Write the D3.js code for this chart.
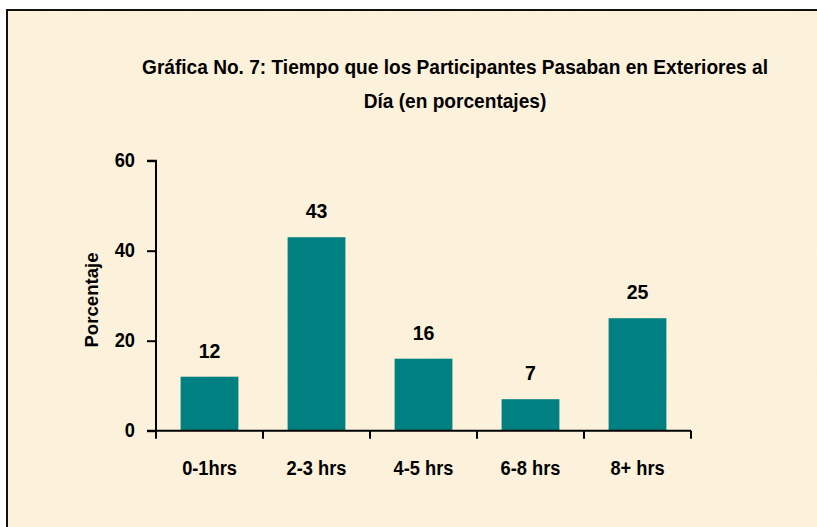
<!DOCTYPE html>
<html>
<head>
<meta charset="utf-8">
<script src="https://cdn.jsdelivr.net/npm/d3@7"></script>
<style>
  html, body { margin: 0; padding: 0; background: #ffffff; }
  svg { display: block; }
  text { font-family: "Liberation Sans", Arial, sans-serif; font-weight: bold; fill: #000; }
</style>
</head>
<body>
<svg id="chart" width="817" height="527"></svg>
<script>
const categories = ["0-1hrs", "2-3 hrs", "4-5 hrs", "6-8 hrs", "8+ hrs"];
const values = [12, 43, 16, 7, 25];
const yTicks = [0, 20, 40, 60];
const titleLines = ["Gráfica No. 7: Tiempo que los Participantes Pasaban en Exteriores al", "Día (en porcentajes)"];
const yLabel = "Porcentaje";

const svg = d3.select("#chart");
const W = 817, H = 527;

// background texture
const defs = svg.append("defs");
const f = defs.append("filter").attr("id", "paper").attr("x", 0).attr("y", 0).attr("width", "100%").attr("height", "100%");
f.append("feTurbulence").attr("type", "fractalNoise").attr("baseFrequency", "0.012 0.02").attr("numOctaves", 3).attr("seed", 4).attr("result", "n");
f.append("feColorMatrix").attr("in", "n").attr("type", "matrix")
  .attr("values", "0 0 0 0 0.98  0 0 0 0 0.91  0 0 0 0 0.76  0 0 0 -0.9 0.55");

svg.append("rect").attr("x", 0).attr("y", 0).attr("width", W).attr("height", H).attr("fill", "#ffffff");
svg.append("rect").attr("x", 7).attr("y", 10).attr("width", W).attr("height", H).attr("fill", "#fcf1da");
svg.append("rect").attr("x", 7).attr("y", 10).attr("width", W).attr("height", H).attr("filter", "url(#paper)").attr("opacity", 0.5);
svg.append("rect").attr("x", 7).attr("y", 10).attr("width", W + 10).attr("height", H + 10)
  .attr("fill", "none").attr("stroke", "#111").attr("stroke-width", 2);

const x0 = 156, x1 = 691, yTop = 160.7, yBot = 430.7;
const x = d3.scaleBand().domain(categories).range([x0, x1]).paddingInner(0.46).paddingOuter(0.23);
const y = d3.scaleLinear().domain([0, 60]).range([yBot, yTop]);

// helper: condensed text
function ctext(g, px, py, str, size, sx, anchor) {
  return g.append("text")
    .attr("transform", `translate(${px},${py}) scale(${sx},1)`)
    .attr("text-anchor", anchor || "middle")
    .style("font-size", size + "px")
    .text(str);
}

// title
ctext(svg, 455, 74, titleLines[0], 19.5, 0.98);
ctext(svg, 455, 108, titleLines[1], 19.5, 0.98);

// bars
svg.append("g").selectAll("rect").data(values).join("rect")
  .attr("x", (d, i) => x(categories[i]))
  .attr("y", d => y(d))
  .attr("width", x.bandwidth())
  .attr("height", d => y(0) - y(d))
  .attr("fill", "#008080");

// value labels
const gv = svg.append("g");
values.forEach((d, i) => ctext(gv, x(categories[i]) + x.bandwidth() / 2, y(d) - 19, d, 21, 0.93));

// y axis
const yAxis = d3.axisLeft(y).tickValues(yTicks).tickSize(9).tickPadding(12).tickFormat(d3.format("d"));
const gy = svg.append("g").attr("transform", `translate(${x0},0)`).call(yAxis);
gy.select(".domain").attr("stroke", "#000").attr("stroke-width", 2).attr("d", `M-9,${yTop}H0V${yBot}`);
gy.selectAll(".tick line").attr("stroke", "#000").attr("stroke-width", 2);
gy.selectAll(".tick text")
  .style("font-size", "21px").style("font-family", "'Liberation Sans', Arial, sans-serif").style("font-weight", "bold")
  .attr("fill", "#000").attr("x", -21 / 0.87).attr("dy", "0.26em").attr("transform", "scale(0.87,1)");

// x axis with tick marks between categories
const gx = svg.append("g").attr("transform", `translate(0,${yBot})`);
gx.append("line").attr("x1", x0 - 9).attr("x2", x1).attr("y1", 0).attr("y2", 0).attr("stroke", "#000").attr("stroke-width", 2);
const step = x.step();
const boundaries = [x0].concat(categories.map(c => x(c) + x.bandwidth() + (step - x.bandwidth()) / 2));
gx.selectAll("line.tk").data(boundaries).join("line").attr("class", "tk")
  .attr("x1", d => d).attr("x2", d => d).attr("y1", 0).attr("y2", 8)
  .attr("stroke", "#000").attr("stroke-width", 2);
categories.forEach(c => ctext(gx, x(c) + x.bandwidth() / 2, 44, c, 20.5, 0.89));

// y axis title
svg.append("text").attr("transform", "translate(98,300) rotate(-90)")
  .attr("text-anchor", "middle").style("font-size", "18.6px").text(yLabel);
</script>
</body>
</html>
